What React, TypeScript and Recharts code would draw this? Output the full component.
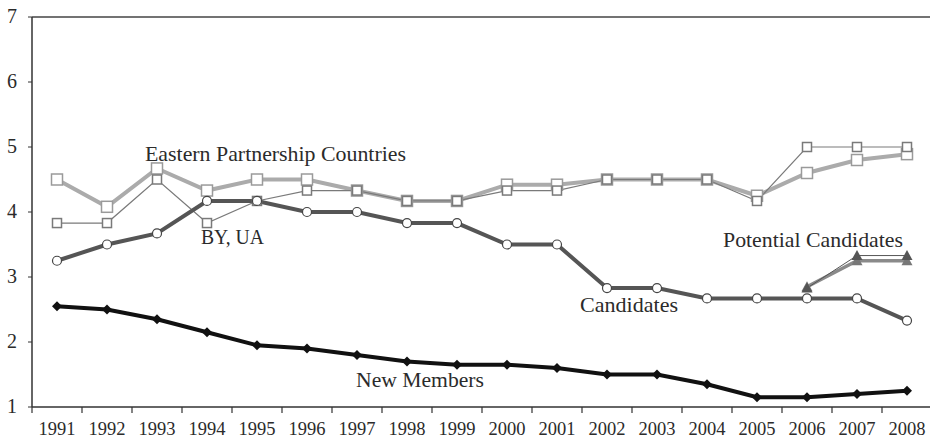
import React from 'react'
import { LineChart, Line, XAxis, YAxis, ReferenceLine } from 'recharts'

const YEARS = [1991, 1992, 1993, 1994, 1995, 1996, 1997, 1998, 1999, 2000, 2001, 2002, 2003, 2004, 2005, 2006, 2007, 2008]
const Y_TICKS = [1, 2, 3, 4, 5, 6, 7]

const EAP = [4.5, 4.08, 4.67, 4.33, 4.5, 4.5, 4.33, 4.17, 4.17, 4.42, 4.42, 4.5, 4.5, 4.5, 4.25, 4.6, 4.8, 4.89]
const BY_UA = [3.83, 3.83, 4.5, 3.83, 4.17, 4.33, 4.33, 4.17, 4.17, 4.33, 4.33, 4.5, 4.5, 4.5, 4.17, 5.0, 5.0, 5.0]
const CANDIDATES = [3.25, 3.5, 3.67, 4.17, 4.17, 4.0, 4.0, 3.83, 3.83, 3.5, 3.5, 2.83, 2.83, 2.67, 2.67, 2.67, 2.67, 2.33]
const NEW_MEMBERS = [2.55, 2.5, 2.35, 2.15, 1.95, 1.9, 1.8, 1.7, 1.65, 1.65, 1.6, 1.5, 1.5, 1.35, 1.15, 1.15, 1.2, 1.25]
const POT_A = [null, null, null, null, null, null, null, null, null, null, null, null, null, null, null, 2.85, 3.25, 3.25]
const POT_B = [null, null, null, null, null, null, null, null, null, null, null, null, null, null, null, 2.83, 3.33, 3.33]

const data = YEARS.map((year, i) => ({
  year,
  eap: EAP[i],
  byua: BY_UA[i],
  cand: CANDIDATES[i],
  nm: NEW_MEMBERS[i],
  potA: POT_A[i],
  potB: POT_B[i],
}))

const FONT = 'Liberation Serif, DejaVu Serif, serif'
const TEXT = '#2b2b2b'

function square(size: number, stroke: string, sw: number) {
  return (p: any) => {
    if (p.cy == null || p.value == null) return <g key={p.key ?? p.index} />
    const h = size / 2
    return <rect key={p.key ?? p.index} x={p.cx - h} y={p.cy - h} width={size} height={size} fill="#fff" stroke={stroke} strokeWidth={sw} />
  }
}

function circle(p: any) {
  if (p.cy == null) return <g key={p.key ?? p.index} />
  return <circle key={p.key ?? p.index} cx={p.cx} cy={p.cy} r={4.5} fill="#fff" stroke="#444" strokeWidth={1.2} />
}

function diamond(p: any) {
  if (p.cy == null) return <g key={p.key ?? p.index} />
  const r = 5
  return <path key={p.key ?? p.index} d={`M${p.cx},${p.cy - r}L${p.cx + r},${p.cy}L${p.cx},${p.cy + r}L${p.cx - r},${p.cy}Z`} fill="#111" />
}

function triangle(color: string) {
  return (p: any) => {
    if (p.cy == null || p.value == null) return <g key={p.key ?? p.index} />
    const r = 5.5
    return <path key={p.key ?? p.index} d={`M${p.cx},${p.cy - r}L${p.cx + r},${p.cy + r * 0.8}L${p.cx - r},${p.cy + r * 0.8}Z`} fill={color} />
  }
}

function XTick(props: any) {
  const { x, y, payload } = props
  return (
    <g>
      <line x1={x - 25} y1={y} x2={x - 25} y2={y + 6} stroke="#333" strokeWidth={1.2} />
      <text x={x} y={y + 28} textAnchor="middle" fill={TEXT} style={{ fontFamily: FONT, fontSize: 19 }} textLength={37} lengthAdjust="spacingAndGlyphs">
        {payload.value}
      </text>
    </g>
  )
}

function YTick(props: any) {
  const { x, y, payload } = props
  return (
    <text x={x} y={y + 6} textAnchor="end" fill={TEXT} style={{ fontFamily: FONT, fontSize: 20 }}>
      {payload.value}
    </text>
  )
}

const LABELS = [
  { text: 'Eastern Partnership Countries', x: 145, y: 161, w: 261 },
  { text: 'BY, UA', x: 201, y: 244, w: 63 },
  { text: 'Potential Candidates', x: 723, y: 247, w: 180 },
  { text: 'Candidates', x: 580, y: 312, w: 98 },
  { text: 'New Members', x: 356, y: 387, w: 128 },
]

export default function App() {
  return (
    <div style={{ position: 'absolute', left: 0, top: 0, width: 930, height: 442, overflow: 'hidden', background: '#fff', fontFamily: FONT }}>
      <LineChart width={930} height={442} data={data} margin={{ top: 17, right: -2, left: 0, bottom: 0 }}>
        <XAxis
          dataKey="year"
          type="number"
          domain={[1990.5, 2008.5]}
          ticks={YEARS}
          interval={0}
          height={35}
          tickSize={0}
          tickMargin={0}
          tickLine={false}
          axisLine={{ stroke: '#333', strokeWidth: 1.5 }}
          tick={<XTick />}
        />
        <YAxis
          type="number"
          domain={[1, 7]}
          ticks={Y_TICKS}
          interval={0}
          width={32}
          tickSize={4}
          tickMargin={11}
          axisLine={{ stroke: '#333', strokeWidth: 1.5 }}
          tickLine={{ stroke: '#333' }}
          tick={<YTick />}
        />
        <ReferenceLine y={7} stroke="#444" strokeWidth={1.5} />
        <Line dataKey="eap" stroke="#ababab" strokeWidth={4} dot={square(11, '#9a9a9a', 1.5)} isAnimationActive={false} />
        <Line dataKey="byua" stroke="#7a7a7a" strokeWidth={1.2} dot={square(9, '#7a7a7a', 1.5)} isAnimationActive={false} />
        <Line dataKey="cand" stroke="#555" strokeWidth={4} dot={circle} isAnimationActive={false} />
        <Line dataKey="nm" stroke="#111" strokeWidth={4} dot={diamond} isAnimationActive={false} />
        <Line dataKey="potA" stroke="#8a8a8a" strokeWidth={3.5} dot={triangle('#777')} isAnimationActive={false} />
        <Line dataKey="potB" stroke="#555" strokeWidth={1} dot={triangle('#555')} isAnimationActive={false} />
      </LineChart>
      <svg width={930} height={442} style={{ position: 'absolute', left: 0, top: 0, pointerEvents: 'none' }}>
        {LABELS.map(l => (
          <text key={l.text} x={l.x} y={l.y} fill={TEXT} style={{ fontFamily: FONT, fontSize: 21 }} textLength={l.w} lengthAdjust="spacingAndGlyphs">
            {l.text}
          </text>
        ))}
      </svg>
    </div>
  )
}
